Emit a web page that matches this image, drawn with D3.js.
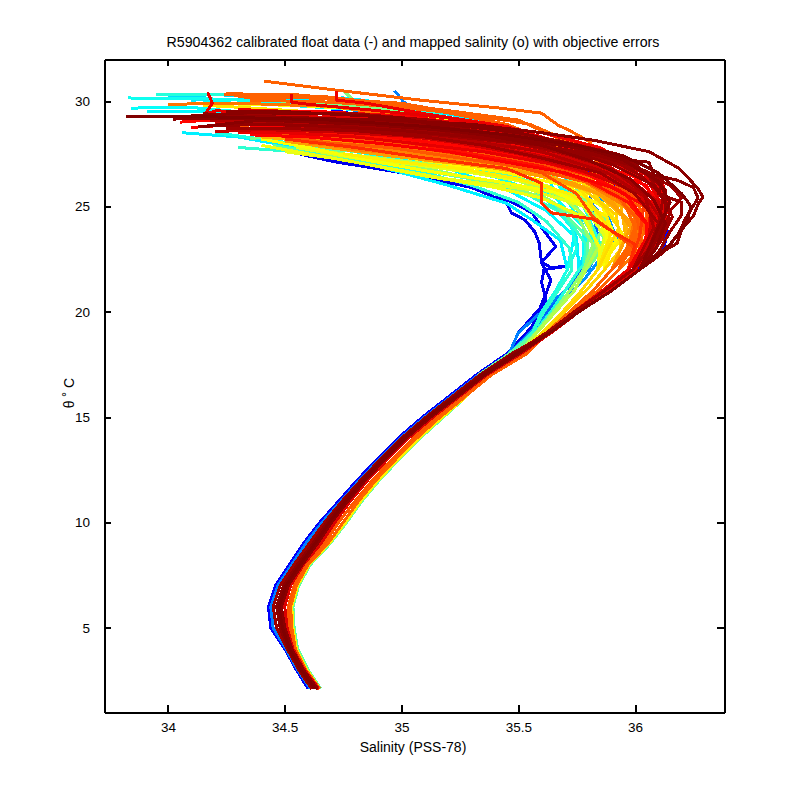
<!DOCTYPE html>
<html>
<head>
<meta charset="utf-8">
<script src="https://cdn.jsdelivr.net/npm/d3@7"></script>
<style>
body { margin: 0; background: #fff; }
text { font-family: "Liberation Sans", Arial, sans-serif; fill: #000; }
</style>
</head>
<body>
<svg id="chart" width="800" height="800"></svg>
<script>
var xTicks = [34, 34.5, 35, 35.5, 36];
var yTicks = [5, 10, 15, 20, 25, 30];

// theta levels shared by the deep part of every profile
var thetaDeep = [2.1, 3, 4, 5, 6, 7, 8, 9, 10, 11, 12, 13, 14, 15, 16, 17, 18];
var deepBlue1 = [34.60, 34.55, 34.50, 34.44, 34.43, 34.46, 34.52, 34.58, 34.65, 34.73, 34.81, 34.895, 34.985, 35.09, 35.205, 35.32, 35.45];
var deepBlue2 = [34.61, 34.555, 34.505, 34.45, 34.44, 34.47, 34.53, 34.59, 34.66, 34.74, 34.82, 34.905, 34.995, 35.10, 35.215, 35.33, 35.46];
var deepRedL = [34.615, 34.56, 34.51, 34.465, 34.45, 34.48, 34.54, 34.605, 34.67, 34.745, 34.825, 34.91, 35.0, 35.105, 35.22, 35.335, 35.47];
var deepDark1 = [34.625, 34.565, 34.515, 34.48, 34.465, 34.495, 34.555, 34.62, 34.68, 34.75, 34.83, 34.915, 35.005, 35.11, 35.228, 35.34, 35.48];
var deepDark2 = [34.63, 34.57, 34.52, 34.49, 34.475, 34.505, 34.565, 34.63, 34.69, 34.76, 34.835, 34.92, 35.01, 35.115, 35.235, 35.35, 35.49];
var deepDark3 = [34.64, 34.58, 34.53, 34.50, 34.485, 34.515, 34.575, 34.64, 34.70, 34.77, 34.845, 34.93, 35.02, 35.125, 35.243, 35.358, 35.5];
var deepRedR = [34.645, 34.585, 34.535, 34.51, 34.50, 34.525, 34.58, 34.655, 34.715, 34.78, 34.855, 34.94, 35.03, 35.135, 35.25, 35.365, 35.51];
var deepOrange1 = [34.65, 34.59, 34.54, 34.52, 34.515, 34.54, 34.59, 34.67, 34.73, 34.80, 34.875, 34.96, 35.05, 35.15, 35.26, 35.375, 35.52];
var deepOrange2 = [34.65, 34.59, 34.545, 34.53, 34.525, 34.55, 34.6, 34.685, 34.75, 34.815, 34.89, 34.975, 35.065, 35.165, 35.275, 35.385, 35.535];
var deepYellow = [34.65, 34.595, 34.55, 34.535, 34.53, 34.555, 34.605, 34.69, 34.76, 34.825, 34.90, 34.985, 35.075, 35.175, 35.28, 35.36, 35.5];
var deepCyan = [34.655, 34.6, 34.555, 34.54, 34.535, 34.56, 34.61, 34.695, 34.765, 34.83, 34.905, 34.99, 35.08, 35.18, 35.28, 35.33, 35.46];

// theta 19, 20, 21, 22
var thetaMid = [19, 20, 21, 22];
var midCyan0 = [35.56, 35.61, 35.67, 35.73];
var midCyan1 = [35.56, 35.6, 35.66, 35.71];
var midCyan2 = [35.57, 35.64, 35.7, 35.76];
var midCyan3 = [35.575, 35.65, 35.72, 35.78];
var midGreen = [35.58, 35.66, 35.74, 35.79];
var midYellow = [35.6, 35.69, 35.77, 35.84];
var midYellow2 = [35.61, 35.7, 35.79, 35.87];
var midOrange = [35.62, 35.72, 35.82, 35.90];
var midOrange2 = [35.625, 35.73, 35.84, 35.93];
var midRed = [35.63, 35.74, 35.86, 35.97];
var midRed2 = [35.64, 35.76, 35.88, 36.0];
var midDark1 = [35.62, 35.74, 35.87, 35.99];
var midDark2 = [35.635, 35.76, 35.90, 36.02];

// upper part of each profile, salinity / theta pairs
var upBlue1 = [[35.56,19.3],[35.62,20.9],[35.64,21.5],[35.6,22.3],[35.59,23.25],[35.57,23.8],[35.53,24.35],[35.47,24.7],[35.45,25.2],[35.3,25.9],[35.0,26.6],[34.7,27.15],[34.48,27.7]];
var upBlue2 = [[35.5,19],[35.62,20.5],[35.6,21.4],[35.61,22.0],[35.7,22.15],[35.64,22.1],[35.6,22.35],[35.66,23.1],[35.6,24.0],[35.56,24.7],[35.4,25.6],[35.2,26.2],[34.9,27]];
var upBlue3 = [[35.62,19],[35.8,20.5],[36.0,22],[36.12,22.9],[36.14,23.8],[36.08,24.8],[36.0,25.6],[35.85,26.4],[35.6,27.6],[35.3,28.2],[35.0,28.9],[34.7,29.6]];
var upAzure1 = [[35.5,19],[35.8,22],[35.9,24],[35.75,26],[35.6,28],[35.3,28.8],[35.05,29.7],[35.01,29.95],[34.97,30.5]];
var upAzure2 = [[35.55,19],[35.78,21.5],[35.92,23.5],[35.85,25.5],[35.65,27.3],[35.5,28.5],[35.2,28.6],[34.9,29.4],[34.6,29.9]];
var upAzure3 = [[35.55,19],[35.85,23],[35.8,26],[35.7,27.6],[35.45,28.5],[35.2,28.9],[34.95,29.5]];
var upCyan1 = [[35.68,23.4],[35.56,24.35],[35.45,25.15],[35.2,26],[35,26.6],[34.7,27.5],[34.3,28.3],[34.06,28.5]];
var upCyan2 = [[35.74,23.6],[35.62,24.8],[35.45,25.8],[35.2,26.8],[34.95,27.7],[34.6,28.6],[34.2,29.5],[33.91,29.5]];
var upCyan3 = [[35.8,22.5],[35.78,24],[35.65,25.5],[35.45,26.6],[35.2,27.6],[34.9,28.5],[34.5,29.3],[34.1,29.7],[33.84,29.67]];
var upCyan4 = [[35.83,22.7],[35.8,24.2],[35.68,26],[35.5,27.2],[35.3,28.2],[35.0,29.3],[34.6,29.9],[34.2,30.1],[33.83,30.15]];
var upCyan5 = [[35.75,23],[35.73,24],[35.6,25.6],[35.4,26.4],[35.1,27.1],[34.8,27.6],[34.4,28.2],[34.2,28.5]];
var upCyan6 = [[35.86,23],[35.78,25],[35.6,27],[35.4,28.3],[35.15,29.4],[34.7,30.1],[34.3,30.3],[33.95,30.33]];
var upCyan7 = [[35.79,23.2],[35.7,24.6],[35.55,25.5],[35.35,26.2],[35.05,26.9],[34.75,27.4],[34.45,27.9]];
var upCyan8 = [[35.72,23],[35.62,24.3],[35.5,25.2],[35.3,26],[35.1,26.6],[34.85,27.1],[34.55,27.6],[34.3,27.8]];
var upCyan9 = [[35.75,23.5],[35.6,27],[35.4,28.8],[35.1,29.7],[34.75,30.15],[34.4,30.1],[34.1,30.05]];
var upCyan10 = [[35.8,23.4],[35.7,26.4],[35.5,28.5],[35.25,29.3],[34.95,29.8],[34.6,30.2],[34.2,30.3],[34,30.25]];
var upCyan11 = [[35.78,24],[35.62,27],[35.45,28.4],[35.1,29.2],[34.8,29.6],[34.45,29.85],[34.15,29.95]];
var upGreen1 = [[35.8,23.5],[35.65,25.2],[35.45,26],[35.2,26.5],[34.95,27],[34.7,27.3],[34.45,27.9]];
var upGreen2 = [[35.85,23],[35.75,25],[35.55,26.2],[35.25,27],[34.95,27.5],[34.7,27.7],[34.52,28.1]];
var upGreen3 = [[35.88,23.2],[35.8,25],[35.65,26.5],[35.45,27.4],[35.15,28.1],[34.8,28.2],[34.5,28.5],[34.35,28.2]];
var upGreen4 = [[35.9,24],[35.7,26.5],[35.4,28],[35,29.6],[34.8,30],[34.75,30.5]];
var upGreen5 = [[35.82,23.2],[35.76,24.4],[35.62,25.4],[35.4,26.1],[35.15,26.7],[34.9,27.2],[34.65,27.5]];
var upGreen6 = [[35.84,23],[35.8,24.4],[35.68,25.5],[35.48,26.3],[35.2,26.9],[34.9,27.3],[34.6,27.7]];
var upGreen7 = [[35.86,24],[35.68,27],[35.42,28.6],[35.1,29.4],[34.8,29.8],[34.5,30],[34.35,30.05]];
var upYellow1 = [[35.85,23],[35.78,24.5],[35.6,25.4],[35.4,25.9],[35.1,26.45],[34.85,27],[34.6,27.5],[34.4,27.9]];
var upYellow2 = [[35.9,23.2],[35.83,24.8],[35.65,25.7],[35.4,26.2],[35.1,26.7],[34.85,27.2],[34.6,27.8],[34.4,28.2]];
var upYellow3 = [[35.92,23.4],[35.86,25],[35.7,26],[35.45,26.6],[35.15,27.1],[34.85,27.6],[34.6,28.1]];
var upYellow4 = [[35.95,23.6],[35.88,25],[35.75,26],[35.5,26.9],[35.2,27.3],[34.9,27.8],[34.65,28.3],[34.5,28.8]];
var upYellow5 = [[35.9,23.8],[35.7,26.8],[35.4,28],[35,29],[34.6,29.5],[34.32,29.7],[34.15,29.8]];
var upYellow6 = [[35.93,24],[35.8,26],[35.5,27.3],[35.2,27.7],[34.9,28.1],[34.6,28.3]];
var upYellow7 = [[35.88,23.5],[35.82,25],[35.62,26],[35.3,26.6],[35.05,27],[34.8,27.3],[34.55,27.8]];
var upYellow8 = [[35.87,23.6],[35.78,25],[35.55,25.8],[35.2,26.3],[34.95,26.8],[34.7,27.3],[34.5,27.6]];
var upYellow9 = [[35.94,23],[35.92,24.6],[35.78,25.8],[35.55,26.6],[35.3,27],[35.05,27.3],[34.8,27.7],[34.6,28]];
var upYellow10 = [[35.9,23],[35.88,24.5],[35.72,25.6],[35.5,26.3],[35.25,26.8],[35,27.1],[34.75,27.5]];
var upYellow11 = [[35.88,24],[35.7,27],[35.45,28.5],[35.15,29.2],[34.85,29.6],[34.55,29.8],[34.3,29.85]];
var upOrange1 = [[35.98,23],[35.98,24.3],[35.85,25.6],[35.6,26.5],[35.3,27],[35,27.4],[34.7,27.9],[34.5,28.3]];
var upOrange2 = [[36,23],[36,24.5],[35.88,25.8],[35.65,26.7],[35.3,27.3],[35,27.7],[34.7,28.1],[34.48,28.6]];
var upOrange3 = [[36.02,23.2],[36.03,24.6],[35.9,26],[35.7,26.9],[35.35,27.5],[35.05,27.9],[34.7,28.3],[34.45,28.8]];
var upOrange4 = [[36.05,23.5],[36.05,24.8],[35.95,26],[35.82,27.3],[35.81,28.05],[35.72,28.6],[35.67,28.86],[35.6,29.43],[35.42,29.67],[35.08,30.05],[34.7,30.55],[34.41,30.95]];
var upOrange5 = [[36,23.5],[36,25],[35.9,26.5],[35.7,27.8],[35.45,28.9],[35.08,29.7],[34.68,30.2],[34.24,30.3]];
var upOrange6 = [[35.97,23],[36,24.5],[35.85,26.3],[35.6,27.4],[35.3,28.5],[35.0,29.3],[34.7,29.75],[34.3,29.9],[34.0,29.85]];
var upOrange7 = [[36.06,24],[35.92,26.2],[35.75,27],[35.4,27.7],[35.1,28],[34.8,28.3],[34.55,28.6]];
var upOrange8 = [[36.04,24.2],[35.9,25.9],[35.6,26.8],[35.3,27.2],[35,27.6],[34.8,27.85],[34.6,28]];
var upOrange9 = [[36.02,23.5],[35.96,25],[35.78,26.2],[35.5,26.9],[35.2,27.3],[35,27.5],[34.8,27.7],[34.62,28.05]];
var upOrange10 = [[35.97,23],[35.96,24.4],[35.84,25.6],[35.62,26.4],[35.35,26.9],[35.1,27.2],[34.85,27.7],[34.6,28.1],[34.4,28.3]];
var upOrange11 = [[35.99,23.2],[35.98,24.8],[35.86,26],[35.65,26.9],[35.4,27.3],[35.1,27.6],[34.85,27.95],[34.6,28.2],[34.38,28.5]];
var upOrange12 = [[36,23.4],[36.02,25],[35.92,26.2],[35.72,27.1],[35.45,27.5],[35.15,27.8],[34.9,28.1],[34.65,28.4],[34.4,28.4]];
var upOrange13 = [[35.96,23.6],[35.94,25],[35.82,25.8],[35.58,26.6],[35.3,27.1],[35.05,27.5],[34.8,27.9],[34.55,28.3]];
var upOrange14 = [[36.02,23],[36.04,24.4],[35.94,25.6],[35.76,26.5],[35.5,27.2],[35.2,27.5],[34.95,27.9],[34.7,28.2]];
var upOrange15 = [[35.98,24],[35.9,25.3],[35.74,26.1],[35.48,26.7],[35.2,27.1],[34.95,27.4],[34.72,27.75],[34.5,28.1]];
var upOrange16 = [[36,24],[35.9,26.5],[35.65,28],[35.35,29.2],[35.0,29.9],[34.6,30.15],[34.3,30.2]];
var upOrange17 = [[36.03,24],[35.95,26.4],[35.78,27.8],[35.55,28.9],[35.3,29.35],[35,29.7],[34.7,29.95],[34.35,30.05]];
var upOrange18 = [[36.02,24.4],[35.92,26.6],[35.72,28],[35.5,29.1],[35.2,29.55],[34.9,29.95],[34.55,30.3],[34.25,30.35]];
var upRed1 = [[36.0,23.2],[35.89,23.9],[35.82,24.4],[35.64,24.7],[35.6,25.15],[35.6,26.1],[35.45,26.8],[35.1,27.3],[34.8,27.8],[34.5,28.2]];
var upRed2 = [[36,23],[35.82,24.5],[35.75,25.6],[35.6,26.6],[35.3,27.4],[35.0,27.9],[34.7,28.3],[34.45,28.5]];
var upRed3 = [[36.1,23.5],[36.1,24.8],[36,26],[35.8,27.2],[35.5,28],[35.2,28.5],[34.9,28.9],[34.6,29.3],[34.35,29.4],[34.21,29.55],[34.16,29.4],[34.19,29.9],[34.17,30.42]];
var upRed4 = [[36.08,23.4],[36.12,25],[36.05,26.3],[35.8,27.6],[35.5,28.6],[35.2,29.2],[34.85,29.6],[34.6,29.85],[34.53,29.95],[34.53,30.33]];
var upRed5 = [[36.05,23],[36.1,24.6],[35.95,26.5],[35.75,27.8],[35.45,28.8],[35.1,29.4],[34.85,29.9],[34.72,30.05],[34.72,30.5]];
var upRed6 = [[36.05,23.5],[36.02,25],[35.85,26],[35.55,26.8],[35.25,27.3],[34.95,27.8],[34.7,28],[34.45,28.4]];
var upRed7 = [[36.06,23.5],[36.05,25],[35.9,26.2],[35.6,27],[35.3,27.5],[35,28],[34.7,28.2],[34.4,28.6],[34.25,28.6]];
var upRed8 = [[36.08,24],[36.0,25.8],[35.75,26.7],[35.45,27.3],[35.2,27.6],[34.9,28],[34.6,28.3],[34.3,28.8]];
var upRed9 = [[36.12,24],[36.05,26],[35.8,27],[35.5,27.7],[35.2,28.1],[34.9,28.5],[34.6,28.7],[34.3,28.9],[34.1,28.75]];
var upRed10 = [[36.1,24.5],[36,26],[35.85,27.2],[35.6,28.2],[35.3,28.9],[35,29.3],[34.65,29.5],[34.4,29.5]];
var upRed11 = [[36.14,25.2],[36.12,26],[36,26.8],[35.85,27.8],[35.6,28.5],[35.25,29],[34.9,29.2],[34.5,29.2]];
var upRed12 = [[36.08,23.8],[36.1,25.3],[36,26.4],[35.75,27.3],[35.5,27.9],[35.2,28.3],[34.9,28.7],[34.55,29.05],[34.3,29.2],[34.05,29]];
var upRed13 = [[36.04,23.2],[36.07,24.8],[35.98,26],[35.82,26.8],[35.55,27.5],[35.3,27.9],[35.05,28.1],[34.8,28.4],[34.5,28.7],[34.3,29]];
var upRed14 = [[36.06,23.2],[36.09,24.6],[36.02,25.8],[35.88,26.8],[35.65,27.5],[35.4,28],[35.1,28.3],[34.8,28.6],[34.5,28.8]];
var upRed15 = [[36.02,23.6],[36.04,25.2],[35.92,26.4],[35.7,27.2],[35.45,27.8],[35.15,28.15],[34.85,28.4],[34.55,28.6],[34.35,28.7]];
var upRed16 = [[36.12,24],[36.14,25],[36.08,26.4],[35.92,27.4],[35.7,28],[35.45,28.4],[35.15,28.9],[34.85,29.2],[34.55,29.5],[34.3,29.6]];
var upRed17 = [[36.03,23],[36.01,24.4],[35.93,25.4],[35.75,26.4],[35.5,27.2],[35.25,27.7],[35,28],[34.75,28.25],[34.45,28.5]];
var upRed18 = [[36.07,23.6],[36.1,25.6],[36.04,26.6],[35.86,27.6],[35.62,28.1],[35.35,28.6],[35.05,29],[34.75,29.2],[34.45,29.3],[34.2,29.3]];
var upDark1 = [[36.08,22.6],[36.18,23.25],[36.2,23.9],[36.25,24.55],[36.27,25.1],[36.29,25.45],[36.27,25.85],[36.19,26.8],[36.06,27.6],[35.82,28.15],[35.6,28.5],[35.3,28.9],[34.95,29.1],[34.5,29.2],[34.02,29.15]];
var upDark2 = [[36.15,23.2],[36.22,24.2],[36.24,25],[36.2,25.6],[36.1,26.6],[35.95,27.4],[35.75,27.9],[35.45,28.4],[35.1,28.8],[34.7,29.1],[34.2,29.25],[33.82,29.25]];
var upDark3 = [[36.12,22.8],[36.18,23.6],[36.22,24.5],[36.27,25.4],[36.25,25.9],[36.18,26.25],[36.08,26.5],[36.06,27.1],[35.97,27.2],[35.8,27.7],[35.5,28.2],[35.2,28.6],[34.85,28.9],[34.4,29.1],[34.15,28.8]];
var upDark4 = [[36.1,22.8],[36.15,23.8],[36.2,24.6],[36.2,25.2],[36.1,25.6],[36.12,26.3],[36,26.9],[35.85,27.4],[35.6,27.9],[35.3,28.3],[35,28.6],[34.7,28.8],[34.4,28.9],[34.13,28.8]];
var upDark5 = [[36.12,23.5],[36.15,24.8],[36.2,25.4],[36.15,26],[36,26.8],[35.8,27.4],[35.5,28],[35.15,28.4],[34.8,28.6],[34.5,28.7],[34.25,28.7]];
var upDark6 = [[36.1,23.6],[36.12,24.8],[36.06,25.6],[35.9,26.3],[35.65,27],[35.35,27.6],[35.05,28],[34.8,28.3],[34.5,28.5],[34.3,28.5]];
var upDark7 = [[36.07,22.9],[36.1,24],[36.05,25],[35.9,25.9],[35.7,26.6],[35.45,27.1],[35.2,27.6],[34.9,28],[34.6,28.3],[34.35,28.4]];
var upDark8 = [[36.08,23.4],[36.08,24.6],[35.98,25.8],[35.75,26.8],[35.5,27.5],[35.25,28],[35,28.4],[34.7,28.7],[34.45,28.9],[34.2,29]];
var upDark9 = [[36.06,23],[36.1,24.2],[36,25.6],[35.85,26.6],[35.6,27.3],[35.35,27.9],[35.1,28.3],[34.8,28.6],[34.5,28.9],[34.3,29.3]];
var upDark10 = [[36.1,23.6],[36.14,25],[36.08,26],[35.9,27],[35.7,27.7],[35.4,28.3],[35.1,28.7],[34.8,29],[34.5,29.2],[34.15,29.4]];
var upDark11 = [[36.05,22.8],[36.11,24.4],[36.05,25.4],[35.88,26.6],[35.6,27.6],[35.3,28.1],[35.05,28.5],[34.75,28.8],[34.45,29],[34.18,29.1]];
var upDark12 = [[36.1,24],[36.15,25.2],[36.1,26.2],[35.95,27.2],[35.75,27.9],[35.5,28.5],[35.2,28.9],[34.85,29.3],[34.5,29.5],[34.25,29.5]];
var upDark13 = [[36.04,23],[36.06,24],[35.97,25.2],[35.8,26.2],[35.6,26.9],[35.35,27.4],[35.1,27.9],[34.85,28.3],[34.6,28.5]];
var upDark14 = [[36.1,23.2],[36.16,24.5],[36.12,25.5],[36.02,26.5],[35.9,27.2],[35.65,27.8],[35.4,28.2],[35.1,28.6],[34.75,28.9],[34.4,29.2]];
var upDark15 = [[36.13,24],[36.1,25.2],[36,26.1],[35.8,26.9],[35.55,27.5],[35.3,28],[35,28.35],[34.7,28.55],[34.4,28.65],[34.2,28.55]];
var upDark16 = [[36.07,23.2],[36.13,24.6],[36.13,25.8],[36.0,27],[35.82,27.6],[35.55,28.2],[35.25,28.7],[34.95,29],[34.6,29.2],[34.3,29.3]];
var upDark17 = [[36.09,23.4],[36.12,25.4],[36.05,26.6],[35.92,27.5],[35.68,28.1],[35.42,28.6],[35.12,29.1],[34.8,29.4],[34.45,29.4],[34.2,29.2]];
var upDark18 = [[36.06,23.4],[36.07,24.8],[36.02,25.6],[35.9,26.7],[35.72,27.3],[35.5,27.8],[35.22,28.4],[34.9,28.75],[34.6,28.95],[34.3,29]];
var upDark19 = [[36.05,23],[36.05,24.2],[35.96,25.6],[35.8,26.5],[35.58,27.2],[35.32,27.75],[35.02,28.2],[34.72,28.7],[34.42,28.8]];
var upDark20 = [[36.09,23],[36.13,24.2],[36.08,25.3],[35.98,26.3],[35.8,27.2],[35.6,27.9],[35.35,28.4],[35.0,29.2],[34.7,29.4],[34.35,29.45],[34.1,29.3]];
var upDark21 = [[36.08,24],[36.04,25.6],[35.9,26.8],[35.7,27.5],[35.45,28.1],[35.18,28.6],[34.88,29],[34.55,29.1],[34.25,29.2]];

// one row per profile: cycle fraction, deep part, mid part (null = upper part covers it), upper part
var profiles = [
	[0.10, deepBlue1, null, upBlue1],
	[0.11, deepBlue2, null, upBlue2],
	[0.12, deepBlue1, null, upBlue3],
	[0.22, deepBlue2, null, upAzure3],
	[0.25, deepBlue2, null, upAzure1],
	[0.27, deepRedL, null, upAzure2],
	[0.36, deepCyan, midCyan1, upCyan1],
	[0.37, deepCyan, midCyan1, upCyan2],
	[0.38, deepCyan, midCyan2, upCyan3],
	[0.39, deepCyan, midCyan2, upCyan4],
	[0.40, deepCyan, midCyan1, upCyan5],
	[0.41, deepCyan, midCyan2, upCyan6],
	[0.43, deepCyan, midCyan3, upCyan7],
	[0.42, deepCyan, midCyan0, upCyan8],
	[0.36, deepCyan, midCyan2, upCyan9],
	[0.34, deepCyan, midCyan2, upCyan10],
	[0.38, deepCyan, midCyan3, upCyan11],
	[0.47, deepCyan, midGreen, upGreen1],
	[0.48, deepYellow, midGreen, upGreen2],
	[0.49, deepYellow, midGreen, upGreen3],
	[0.50, deepYellow, midGreen, upGreen4],
	[0.52, deepYellow, midCyan3, upGreen5],
	[0.55, deepYellow, midGreen, upGreen6],
	[0.50, deepYellow, midGreen, upGreen7],
	[0.61, deepYellow, midYellow, upYellow1],
	[0.62, deepYellow, midYellow, upYellow2],
	[0.63, deepOrange2, midYellow, upYellow3],
	[0.64, deepYellow, midYellow, upYellow4],
	[0.65, deepOrange2, midYellow, upYellow5],
	[0.66, deepOrange2, midYellow, upYellow6],
	[0.60, deepYellow, midYellow2, upYellow7],
	[0.60, deepYellow, midYellow, upYellow8],
	[0.67, deepOrange2, midYellow2, upYellow9],
	[0.64, deepOrange2, midYellow2, upYellow10],
	[0.62, deepOrange2, midYellow2, upYellow11],
	[0.72, deepOrange2, midOrange, upOrange1],
	[0.73, deepOrange2, midOrange, upOrange2],
	[0.74, deepOrange1, midOrange, upOrange3],
	[0.78, deepOrange1, midOrange, upOrange4],
	[0.78, deepOrange1, midOrange, upOrange5],
	[0.76, deepOrange2, midOrange, upOrange6],
	[0.77, deepOrange1, midOrange, upOrange7],
	[0.75, deepOrange1, midOrange, upOrange8],
	[0.75, deepOrange2, midOrange, upOrange9],
	[0.70, deepOrange2, midOrange2, upOrange10],
	[0.71, deepOrange1, midOrange2, upOrange11],
	[0.74, deepOrange1, midOrange2, upOrange12],
	[0.70, deepOrange2, midOrange, upOrange13],
	[0.76, deepOrange1, midOrange2, upOrange14],
	[0.72, deepOrange2, midOrange, upOrange15],
	[0.78, deepOrange1, midOrange2, upOrange16],
	[0.78, deepOrange1, midOrange2, upOrange17],
	[0.78, deepOrange2, midOrange2, upOrange18],
	[0.83, deepRedR, midRed, upRed1],
	[0.80, deepRedR, midRed, upRed2],
	[0.90, deepRedL, midRed, upRed3],
	[0.90, deepRedR, midRed, upRed4],
	[0.89, deepRedL, midRed, upRed5],
	[0.79, deepOrange1, midRed, upRed6],
	[0.80, deepRedR, midRed, upRed7],
	[0.80, deepRedR, midRed, upRed8],
	[0.88, deepRedL, midRed, upRed9],
	[0.88, deepRedR, midRed, upRed10],
	[0.89, deepRedL, midRed, upRed11],
	[0.87, deepRedR, midRed, upRed12],
	[0.86, deepRedR, midRed2, upRed13],
	[0.87, deepRedL, midRed2, upRed14],
	[0.82, deepRedR, midRed, upRed15],
	[0.90, deepRedL, midRed2, upRed16],
	[0.79, deepOrange1, midRed, upRed17],
	[0.91, deepRedR, midRed2, upRed18],
	[0.99, deepDark1, midDark2, upDark1],
	[1.00, deepDark2, midDark2, upDark2],
	[0.99, deepDark3, midDark2, upDark3],
	[0.98, deepDark1, midDark2, upDark4],
	[0.97, deepRedL, midDark2, upDark5],
	[0.90, deepDark2, midDark1, upDark6],
	[0.88, deepDark3, midDark1, upDark7],
	[0.92, deepDark1, midDark1, upDark8],
	[0.97, deepDark2, midDark1, upDark9],
	[0.98, deepDark3, midDark2, upDark10],
	[0.95, deepDark1, midDark1, upDark11],
	[0.99, deepDark2, midDark2, upDark12],
	[0.86, deepDark3, midDark1, upDark13],
	[0.97, deepDark2, midDark2, upDark14],
	[0.93, deepDark1, midDark2, upDark15],
	[0.98, deepDark2, midDark2, upDark16],
	[0.97, deepDark1, midDark2, upDark17],
	[0.92, deepDark3, midDark1, upDark18],
	[0.87, deepDark2, midDark1, upDark19],
	[0.99, deepDark3, midDark2, upDark20],
	[0.96, deepDark1, midDark1, upDark21]
];

var jetStops = [0, 0.125, 0.375, 0.625, 0.875, 1];
var jetColors = ["#00008f", "#0000ff", "#00ffff", "#ffff00", "#ff0000", "#800000"];

var left = 104, right = 724, top_ = 59, bottom = 712;

var x = d3.scaleLinear().domain([33.726, 36.381]).range([left, right]);
var y = d3.scaleLinear().domain([1, 32]).range([bottom, top_]);
var jet = d3.scaleLinear().domain(jetStops).range(jetColors);

var svg = d3.select("#chart");

var line = d3.line()
	.x(function(d) { return x(d[0]); })
	.y(function(d) { return y(d[1]); });

function buildProfile(row) {
	var pts = row[1].map(function(s, i) { return [s, thetaDeep[i]]; });
	if (row[2]) {
		row[2].forEach(function(s, i) { pts.push([s, thetaMid[i]]); });
	}
	return pts.concat(row[3]);
}

// low cycles first so the dark red ones end up on top
var ordered = profiles.slice().sort(function(a, b) { return a[0] - b[0]; });

svg.append("g").selectAll("path")
	.data(ordered)
	.enter()
	.append("path")
	.attr("d", function(d) { return line(buildProfile(d)); })
	.attr("fill", "none")
	.attr("stroke", function(d) { return jet(d[0]); })
	.attr("stroke-width", 3)
	.attr("stroke-linejoin", "round")
	.attr("shape-rendering", "crispEdges");

// axes, all four sides with inward ticks
function styleAxis(g) {
	g.selectAll("path").attr("stroke", "#000").attr("stroke-width", 2).attr("shape-rendering", "crispEdges");
	g.selectAll("line").attr("stroke", "#000").attr("stroke-width", 2).attr("shape-rendering", "crispEdges");
	g.selectAll("text").attr("font-size", 13.5).attr("font-family", "Liberation Sans");
}

svg.append("g")
	.attr("transform", "translate(0," + bottom + ")")
	.call(d3.axisBottom(x).tickValues(xTicks).tickFormat(d3.format("")).tickSizeInner(-7).tickSizeOuter(0).tickPadding(10))
	.call(styleAxis);
svg.append("g")
	.attr("transform", "translate(0," + top_ + ")")
	.call(d3.axisTop(x).tickValues(xTicks).tickFormat("").tickSizeInner(-7).tickSizeOuter(0))
	.call(styleAxis);
svg.append("g")
	.attr("transform", "translate(" + left + ",0)")
	.call(d3.axisLeft(y).tickValues(yTicks).tickFormat(d3.format("")).tickSizeInner(-7).tickSizeOuter(0).tickPadding(14))
	.call(styleAxis);
svg.append("g")
	.attr("transform", "translate(" + right + ",0)")
	.call(d3.axisRight(y).tickValues(yTicks).tickFormat("").tickSizeInner(-7).tickSizeOuter(0))
	.call(styleAxis);

svg.append("text")
	.attr("x", 413).attr("y", 47)
	.attr("text-anchor", "middle").attr("font-size", 14.2)
	.text("R5904362 calibrated float data (-) and mapped salinity (o) with objective errors");

svg.append("text")
	.attr("x", 413).attr("y", 752)
	.attr("text-anchor", "middle").attr("font-size", 14)
	.text("Salinity (PSS-78)");

svg.append("text")
	.attr("transform", "translate(74,393) rotate(-90)")
	.attr("text-anchor", "middle").attr("font-size", 14)
	.text("θ ˚ C");
</script>
</body>
</html>
